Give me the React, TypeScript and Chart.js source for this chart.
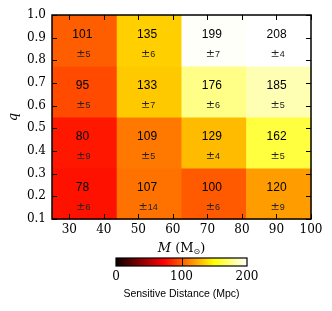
import React, { useEffect, useRef } from 'react';
import { Chart, registerables } from 'chart.js';
Chart.register(...registerables);

// Bin edges
const massEdges = [25, 43.75, 62.5, 81.25, 100];
const qEdges = [0.1, 0.325, 0.55, 0.775, 1.0];
// Sensitive distance (Mpc), rows from low q to high q
const distRow1 = [78, 107, 100, 120];
const distRow2 = [80, 109, 129, 162];
const distRow3 = [95, 133, 176, 185];
const distRow4 = [101, 135, 199, 208];
const errRow1 = [6, 14, 6, 9];
const errRow2 = [9, 5, 4, 5];
const errRow3 = [5, 7, 6, 5];
const errRow4 = [5, 6, 7, 4];
const distances = [distRow1, distRow2, distRow3, distRow4];
const errors = [errRow1, errRow2, errRow3, errRow4];
// Ticks
const xTicks = [30, 40, 50, 60, 70, 80, 90, 100];
const yTicks = [0.1, 0.2, 0.3, 0.4, 0.5, 0.6, 0.7, 0.8, 0.9, 1.0];
const cbTicks = [0, 100, 200];
const cbMin = 0;
const cbMax = 200;

const SERIF = "'DejaVu Serif', serif";
const SANS = "'Liberation Sans', Arial, sans-serif";

function hot(t: number): string {
  t = Math.max(0, Math.min(1, t));
  const a = 0.365079, b = 0.746032;
  const r = t < a ? 0.0416 + (1 - 0.0416) * (t / a) : 1;
  const g = t < a ? 0 : t < b ? (t - a) / (b - a) : 1;
  const bl = t < b ? 0 : (t - b) / (1 - b);
  return `rgb(${Math.round(r * 255)},${Math.round(g * 255)},${Math.round(bl * 255)})`;
}

const heatPlugin = {
  id: 'heat',
  beforeDatasetsDraw(chart: any) {
    const { ctx } = chart;
    const xs = chart.scales.x, ys = chart.scales.y;
    ctx.save();
    for (let r = 0; r < distances.length; r++) {
      for (let c = 0; c < distances[r].length; c++) {
        const x0 = xs.getPixelForValue(massEdges[c]);
        const x1 = xs.getPixelForValue(massEdges[c + 1]);
        const y0 = ys.getPixelForValue(qEdges[r + 1]);
        const y1 = ys.getPixelForValue(qEdges[r]);
        ctx.fillStyle = hot((distances[r][c] - cbMin) / (cbMax - cbMin));
        ctx.fillRect(x0, y0, x1 - x0 + 0.5, y1 - y0 + 0.5);
      }
    }
    ctx.restore();
  },
  afterDraw(chart: any) {
    const { ctx, chartArea } = chart;
    const xs = chart.scales.x, ys = chart.scales.y;
    ctx.save();
    // cell texts
    for (let r = 0; r < distances.length; r++) {
      for (let c = 0; c < distances[r].length; c++) {
        const xc = (massEdges[c] + massEdges[c + 1]) / 2;
        const qc = (qEdges[r] + qEdges[r + 1]) / 2;
        const px = xs.getPixelForValue(xc) - 2;
        const pyV = ys.getPixelForValue(qc + 0.025);
        const pyE = ys.getPixelForValue(qc - 0.06);
        ctx.fillStyle = '#000';
        ctx.textAlign = 'center';
        ctx.textBaseline = 'middle';
        ctx.font = `12px ${SANS}`;
        ctx.fillText(String(distances[r][c]), px, pyV);
        // error
        const pm = '\u00b1';
        const es = String(errors[r][c]);
        ctx.font = `11px ${SERIF}`;
        const w1 = ctx.measureText(pm).width;
        ctx.font = `9px ${SANS}`;
        const w2 = ctx.measureText(es).width;
        const start = px + 1 - (w1 + w2) / 2;
        ctx.textAlign = 'left';
        ctx.fillStyle = '#222';
        ctx.font = `11px ${SERIF}`;
        ctx.fillText(pm, start, pyE);
        ctx.font = `9px ${SANS}`;
        ctx.fillText(es, start + w1, pyE);
      }
    }
    // inward ticks
    ctx.strokeStyle = '#000';
    ctx.lineWidth = 1;
    const tl = 5;
    ctx.beginPath();
    for (const v of xTicks) {
      const x = Math.round(xs.getPixelForValue(v)) + 0.5;
      ctx.moveTo(x, chartArea.bottom); ctx.lineTo(x, chartArea.bottom - tl);
      ctx.moveTo(x, chartArea.top); ctx.lineTo(x, chartArea.top + tl);
    }
    for (const v of yTicks) {
      const y = Math.round(ys.getPixelForValue(v)) + 0.5;
      ctx.moveTo(chartArea.left, y); ctx.lineTo(chartArea.left + tl, y);
      ctx.moveTo(chartArea.right, y); ctx.lineTo(chartArea.right - tl, y);
    }
    ctx.stroke();
    // frame
    ctx.lineWidth = 1.5;
    ctx.strokeRect(chartArea.left, chartArea.top, chartArea.right - chartArea.left, chartArea.bottom - chartArea.top);
    // x title: M (M_sun)
    const cx = (chartArea.left + chartArea.right) / 2;
    const ty = 249;
    const parts = [
      { t: 'M', f: `italic 13px ${SERIF}`, dy: 0 },
      { t: ' (M', f: `13px ${SERIF}`, dy: 0 },
      { t: '\u2299', f: `8px 'DejaVu Sans', sans-serif`, dy: 3 },
      { t: ')', f: `13px ${SERIF}`, dy: 0 },
    ];
    let total = 0;
    const widths: number[] = [];
    for (const p of parts) { ctx.font = p.f; const w = ctx.measureText(p.t).width; widths.push(w); total += w; }
    let x = cx - total / 2;
    ctx.textAlign = 'left';
    ctx.textBaseline = 'middle';
    ctx.fillStyle = '#000';
    parts.forEach((p, i) => { ctx.font = p.f; ctx.fillText(p.t, x, ty + p.dy); x += widths[i]; });
    ctx.restore();
  },
};

const cbPlugin = {
  id: 'cb',
  beforeDatasetsDraw(chart: any) {
    const { ctx, chartArea } = chart;
    const xs = chart.scales.x;
    ctx.save();
    const x0 = xs.getPixelForValue(cbMin), x1 = xs.getPixelForValue(cbMax);
    const grad = ctx.createLinearGradient(x0, 0, x1, 0);
    for (let i = 0; i <= 40; i++) grad.addColorStop(i / 40, hot(i / 40));
    ctx.fillStyle = grad;
    ctx.fillRect(x0, chartArea.top, x1 - x0, chartArea.bottom - chartArea.top);
    ctx.strokeStyle = '#000';
    ctx.lineWidth = 1;
    ctx.beginPath();
    for (const v of cbTicks) {
      if (v === cbMin || v === cbMax) continue;
      const x = Math.round(xs.getPixelForValue(v)) + 0.5;
      ctx.moveTo(x, chartArea.top); ctx.lineTo(x, chartArea.bottom);
    }
    ctx.stroke();
    ctx.lineWidth = 1.2;
    ctx.strokeRect(x0, chartArea.top, x1 - x0, chartArea.bottom - chartArea.top);
    ctx.restore();
  },
};

export default function App() {
  const mainRef = useRef<HTMLCanvasElement>(null);
  const cbRef = useRef<HTMLCanvasElement>(null);
  useEffect(() => {
    const main = new Chart(mainRef.current!, {
      type: 'scatter',
      data: { datasets: [{ data: [], pointRadius: 0 }] },
      plugins: [heatPlugin],
      options: {
        animation: false,
        responsive: false,
        layout: { padding: { left: 0, right: 21, top: 15, bottom: 0 } },
        plugins: { legend: { display: false }, tooltip: { enabled: false } },
        scales: {
          x: {
            type: 'linear', min: 25, max: 100,
            grid: { display: false, drawTicks: false },
            border: { display: false },
            ticks: { padding: 4, color: '#000', font: { family: SERIF, size: 12 }, callback: (v: any) => String(v) },
            afterBuildTicks: (s: any) => { s.ticks = xTicks.map((v) => ({ value: v })); },
            afterFit: (s: any) => { s.height = 41; },
          },
          y: {
            type: 'linear', min: 0.1, max: 1.0,
            grid: { display: false, drawTicks: false },
            border: { display: false },
            ticks: { padding: 6, color: '#000', font: { family: SERIF, size: 12 }, callback: (v: any) => Number(v).toFixed(1) },
            afterBuildTicks: (s: any) => { s.ticks = yTicks.map((v) => ({ value: v })); },
            afterFit: (s: any) => { s.width = 52; },
            title: { display: true, text: 'q', color: '#000', font: { family: SERIF, size: 13, style: 'italic' }, padding: { top: 6, bottom: 0 } },
          },
        },
      } as any,
    });
    const cb = new Chart(cbRef.current!, {
      type: 'scatter',
      data: { datasets: [{ data: [], pointRadius: 0 }] },
      plugins: [cbPlugin],
      options: {
        animation: false,
        responsive: false,
        layout: { padding: { left: 116, right: 85, top: 8, bottom: 0 } },
        plugins: { legend: { display: false }, tooltip: { enabled: false } },
        scales: {
          x: {
            type: 'linear', min: cbMin, max: cbMax,
            grid: { display: false, drawTicks: false },
            border: { display: false },
            ticks: { padding: 4, color: '#000', font: { family: SERIF, size: 12 }, callback: (v: any) => String(v) },
            afterBuildTicks: (s: any) => { s.ticks = cbTicks.map((v) => ({ value: v })); },
            afterFit: (s: any) => { s.height = 45; },
            title: { display: true, text: 'Sensitive Distance (Mpc)', color: '#000', font: { family: SANS, size: 10.5 }, padding: { top: 0, bottom: 11 } },
          },
          y: { display: false, min: 0, max: 1 },
        },
      } as any,
    });
    return () => { main.destroy(); cb.destroy(); };
  }, []);
  return (
    <div style={{ position: 'absolute', left: 0, top: 0, width: 332, height: 311, background: '#fff' }}>
      <canvas ref={mainRef} width={332} height={260} style={{ position: 'absolute', left: 0, top: 0, width: 332, height: 260 }} />
      <canvas ref={cbRef} width={332} height={61} style={{ position: 'absolute', left: 0, top: 250, width: 332, height: 61 }} />
    </div>
  );
}
